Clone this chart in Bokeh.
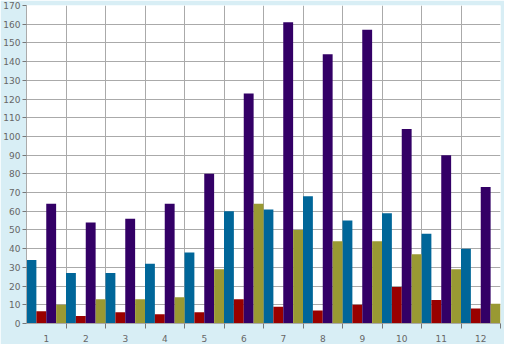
from bokeh.plotting import figure
from bokeh.models import FixedTicker, Range1d, ColumnDataSource
from bokeh.transform import dodge
from bokeh.embed import file_html
from bokeh.resources import INLINE

months = [1, 2, 3, 4, 5, 6, 7, 8, 9, 10, 11, 12]
teal = [34, 27, 27, 32, 38, 60, 61, 68, 55, 59, 48, 40]
red = [6.5, 4, 6, 5, 6, 13, 9, 7, 10, 19.5, 12.5, 8]
purple = [64, 54, 56, 64, 80, 123, 161, 144, 157, 104, 90, 73]
olive = [10, 13, 13, 14, 29, 64, 50, 44, 44, 37, 29, 10.5]
y_ticks = list(range(0, 171, 10))

series = [("teal", teal, "#006699"), ("red", red, "#990000"),
          ("purple", purple, "#330066"), ("olive", olive, "#999933")]

src = ColumnDataSource(dict(x=months, teal=teal, red=red, purple=purple, olive=olive))

BG = "#D8EEF5"
GRID = "#AAAAAA"
TXT = "#666666"

p = figure(width=504, height=344, output_backend="svg", toolbar_location=None,
           x_range=Range1d(0.5, 12.5), y_range=Range1d(0, 170),
           min_border_left=25, min_border_right=4, min_border_top=5, min_border_bottom=19)
p.background_fill_color = "white"
p.border_fill_color = BG
p.outline_line_color = None

n = len(series)
w = 1.0 / n
for i, (name, vals, col) in enumerate(series):
    off = -0.5 + w / 2 + i * w
    p.vbar(x=dodge("x", off), top=name, width=w, source=src,
           fill_color=col, line_color=None)

# y axis
p.yaxis.ticker = FixedTicker(ticks=y_ticks)
p.yaxis.axis_line_color = GRID
p.yaxis.major_tick_line_color = "#777777"
p.yaxis.major_tick_out = 4
p.yaxis.major_tick_in = 0
p.yaxis.minor_tick_line_color = None
p.yaxis.major_label_text_font = "DejaVu Sans"
p.yaxis.major_label_text_font_size = "9px"
p.yaxis.major_label_text_color = TXT
p.yaxis.major_label_standoff = 2

# x axis
bounds = [m + 0.5 for m in months]
p.xaxis.ticker = FixedTicker(ticks=months, minor_ticks=bounds)
p.xaxis.axis_line_color = GRID
p.xaxis.major_tick_line_color = None
p.xaxis.major_tick_out = 0
p.xaxis.major_tick_in = 0
p.xaxis.minor_tick_line_color = "#777777"
p.xaxis.minor_tick_out = 5
p.xaxis.minor_tick_in = 0
p.xaxis.major_label_text_font = "DejaVu Sans"
p.xaxis.major_label_text_font_size = "9px"
p.xaxis.major_label_text_color = TXT
p.xaxis.major_label_standoff = 6

p.xgrid.ticker = FixedTicker(ticks=[0.5] + bounds)
p.xgrid.grid_line_color = GRID
p.ygrid.grid_line_color = GRID

open("out.html", "w").write(file_html(p, INLINE))
